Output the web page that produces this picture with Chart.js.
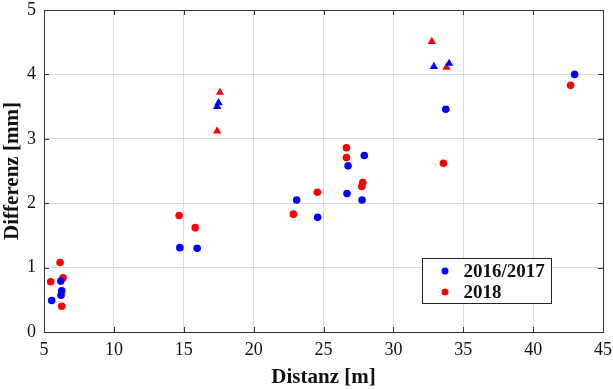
<!DOCTYPE html>
<html>
<head>
<meta charset="utf-8">
<script src="https://cdn.jsdelivr.net/npm/chart.js@4/dist/chart.umd.min.js"></script>
<style>
  html, body { margin: 0; padding: 0; background: #fff; }
  #wrap { width: 613px; height: 390px; }
</style>
</head>
<body>
<div id="wrap"><canvas id="myChart" width="613" height="390"></canvas></div>
<script>
// 2016/2017 measurements
const dist1617  = [5.55, 6.2, 6.27, 6.22, 14.72, 15.96, 17.49, 17.39, 23.08, 24.58, 26.68, 26.76, 27.76, 27.92, 32.9, 33.99, 33.75, 42.97];
const diff1617  = [0.49, 0.79, 0.64, 0.57, 1.31, 1.30, 3.56, 3.50, 2.05, 1.78, 2.15, 2.58, 2.05, 2.74, 4.12, 4.17, 3.46, 4.00];
const shape1617 = ['c','c','c','c','c','c','t','t','c','c','c','c','c','c','t','t','c','c'];

// 2018 measurements
const dist18  = [5.48, 6.15, 6.36, 6.27, 14.67, 15.82, 17.59, 17.39, 22.84, 24.56, 26.64, 26.64, 27.81, 27.74, 32.75, 33.8, 33.58, 42.68];
const diff18  = [0.78, 1.08, 0.84, 0.40, 1.81, 1.62, 3.72, 3.12, 1.83, 2.17, 2.86, 2.71, 2.32, 2.26, 4.51, 4.11, 2.62, 3.83];
const shape18 = ['c','c','c','c','c','c','t','t','c','c','c','c','c','c','t','t','c','c'];

const xTicks = [5, 10, 15, 20, 25, 30, 35, 40, 45];
const yTicks = [0, 1, 2, 3, 4, 5];
const seriesNames = ['2016/2017', '2018'];

const FONT = 'Liberation Serif';

function toPoints(xs, ys) {
    return xs.map((x, i) => ({x: x, y: ys[i]}));
}
function styles(shapes) {
    return shapes.map(s => s === 't' ? 'triangle' : 'circle');
}
function radii(shapes) {
    return shapes.map(s => s === 't' ? 4.8 : 3.8);
}

// box round the plot, inner tick marks and the legend box
const framePlugin = {
    id: 'frame',
    afterDraw(chart) {
        const ctx = chart.ctx;
        const a = chart.chartArea;
        const xs = chart.scales.x, ys = chart.scales.y;
        ctx.save();
        ctx.strokeStyle = '#333';
        ctx.lineWidth = 1;
        ctx.strokeRect(a.left + 0.5, a.top + 0.5, a.right - a.left, a.bottom - a.top);
        ctx.beginPath();
        xTicks.forEach(v => {
            const p = Math.round(xs.getPixelForValue(v)) + 0.5;
            ctx.moveTo(p, a.bottom); ctx.lineTo(p, a.bottom - 5);
            ctx.moveTo(p, a.top); ctx.lineTo(p, a.top + 5);
        });
        yTicks.forEach(v => {
            const p = Math.round(ys.getPixelForValue(v)) + 0.5;
            ctx.moveTo(a.left, p); ctx.lineTo(a.left + 5, p);
            ctx.moveTo(a.right, p); ctx.lineTo(a.right - 5, p);
        });
        ctx.stroke();

        // legend
        const lx = 422.5, ly = 258.5, lw = 129, lh = 45;
        ctx.fillStyle = '#fff';
        ctx.fillRect(lx, ly, lw, lh);
        ctx.strokeStyle = '#222';
        ctx.strokeRect(lx, ly, lw, lh);
        const cols = ['#0000ff', '#ff0000'];
        ctx.font = 'bold 19px "' + FONT + '"';
        ctx.textBaseline = 'middle';
        seriesNames.forEach((name, i) => {
            const cy = ly + 12.5 + i * 21;
            ctx.fillStyle = cols[i];
            ctx.beginPath();
            ctx.arc(lx + 22.5, cy, 3.5, 0, Math.PI * 2);
            ctx.fill();
            ctx.fillStyle = '#111';
            ctx.fillText(name, lx + 41, cy + 1);
        });
        ctx.restore();
    }
};

new Chart(document.getElementById('myChart').getContext('2d'), {
    type: 'scatter',
    data: {
        datasets: [{
            label: seriesNames[0],
            data: toPoints(dist1617, diff1617),
            backgroundColor: '#0000ff',
            borderColor: '#0000ff',
            borderWidth: 0,
            pointStyle: styles(shape1617),
            pointRadius: radii(shape1617)
        }, {
            label: seriesNames[1],
            data: toPoints(dist18, diff18),
            backgroundColor: '#ff0000',
            borderColor: '#ff0000',
            borderWidth: 0,
            pointStyle: styles(shape18),
            pointRadius: radii(shape18)
        }]
    },
    options: {
        responsive: false,
        animation: false,
        layout: { padding: { left: 0, right: 10, top: 10, bottom: 0 } },
        plugins: {
            legend: { display: false },
            tooltip: { enabled: false }
        },
        scales: {
            x: {
                type: 'linear',
                min: 5, max: 45,
                afterBuildTicks: s => { s.ticks = xTicks.map(v => ({value: v})); },
                afterFit: s => { s.height = 58; s.paddingLeft = 0; s.paddingRight = 0; },
                grid: { color: '#dadada', drawTicks: false },
                border: { display: false },
                ticks: { color: '#111', padding: 7, maxRotation: 0, font: { family: FONT, size: 18 } },
                title: { display: true, text: 'Distanz [m]', color: '#111', padding: { top: 3, bottom: 0 },
                         font: { family: FONT, size: 21, weight: 'bold' } }
            },
            y: {
                type: 'linear',
                min: 0, max: 5,
                afterBuildTicks: s => { s.ticks = yTicks.map(v => ({value: v})); },
                afterFit: s => { s.width = 44; s.paddingTop = 0; s.paddingBottom = 0; },
                grid: { color: '#dadada', drawTicks: false },
                border: { display: false },
                ticks: { color: '#111', padding: 8, font: { family: FONT, size: 18 } },
                title: { display: true, text: 'Differenz [mm]', color: '#111', padding: { top: 0, bottom: 1 },
                         font: { family: FONT, size: 21, weight: 'bold' } }
            }
        }
    },
    plugins: [framePlugin]
});
</script>
</body>
</html>
